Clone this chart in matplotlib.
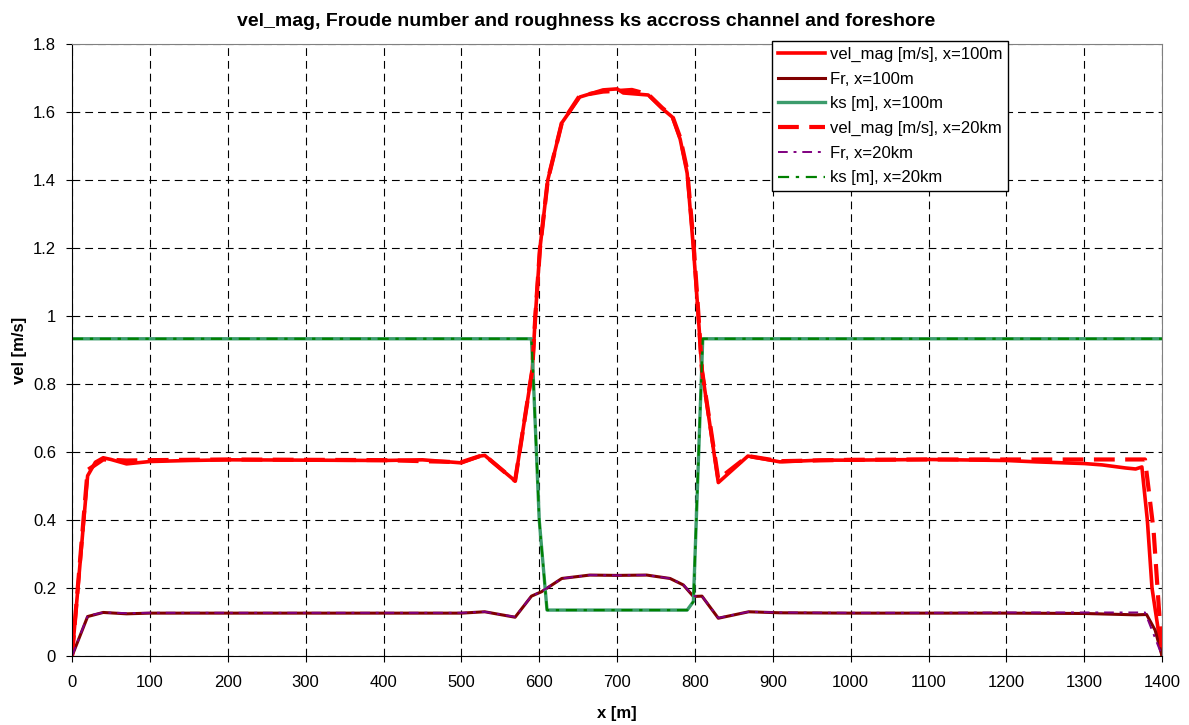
import matplotlib.pyplot as plt
from matplotlib.ticker import MultipleLocator, FormatStrFormatter

plt.rcParams['font.family'] = ['Liberation Sans', 'DejaVu Sans']

# vel_mag, x=100m
x_vel100 = [0, 20, 30, 40, 50, 70, 100, 150, 200, 300, 400, 450, 500, 524, 530, 569, 591, 595, 601, 611,
            629, 652, 682, 700, 708, 740, 758, 771, 781, 790, 798, 804, 809, 830, 868, 909, 961, 1000,
            1100, 1200, 1238, 1300, 1323, 1353, 1366, 1374, 1381, 1387, 1400]
vel100 = [0, 0.53, 0.57, 0.583, 0.578, 0.565, 0.572, 0.575, 0.577, 0.576, 0.575, 0.577, 0.568, 0.588, 0.59,
          0.515, 0.84, 1.0, 1.2, 1.4, 1.568, 1.644, 1.665, 1.668, 1.656, 1.65, 1.61, 1.585, 1.52, 1.42,
          1.2, 1.01, 0.84, 0.51, 0.588, 0.571, 0.576, 0.576, 0.578, 0.575, 0.571, 0.566, 0.562, 0.553,
          0.55, 0.556, 0.40, 0.20, 0]

# vel_mag, x=20km
x_vel20 = [0, 20, 40, 70, 100, 200, 300, 400, 500, 524, 530, 569, 591, 595, 601, 611, 629, 652, 682, 700,
           719, 740, 758, 771, 781, 790, 798, 804, 809, 830, 868, 909, 1000, 1100, 1200, 1300, 1378,
           1389, 1400]
vel20 = [0, 0.547, 0.578, 0.575, 0.576, 0.578, 0.577, 0.576, 0.570, 0.588, 0.59, 0.515, 0.84, 1.0, 1.2,
         1.4, 1.568, 1.648, 1.66, 1.662, 1.665, 1.652, 1.612, 1.588, 1.525, 1.43, 1.22, 1.02, 0.84, 0.52,
         0.588, 0.573, 0.577, 0.578, 0.578, 0.578, 0.578, 0.37, 0]

# Froude number
x_fr100 = [0, 20, 40, 70, 100, 200, 300, 400, 500, 530, 569, 590, 603, 629, 665, 700, 738, 768, 785,
           798, 809, 830, 869, 909, 1000, 1100, 1200, 1300, 1366, 1380, 1391, 1400]
fr100 = [0, 0.116, 0.128, 0.124, 0.126, 0.126, 0.126, 0.126, 0.126, 0.13, 0.114, 0.176, 0.189, 0.228,
         0.238, 0.237, 0.238, 0.228, 0.209, 0.175, 0.176, 0.111, 0.13, 0.127, 0.126, 0.126, 0.126,
         0.125, 0.121, 0.122, 0.076, 0]
x_fr20 = [0, 20, 40, 70, 100, 200, 300, 400, 500, 530, 569, 590, 603, 629, 665, 700, 738, 768, 785,
          798, 809, 830, 869, 909, 1000, 1100, 1200, 1300, 1378, 1400]
fr20 = [0, 0.118, 0.128, 0.126, 0.127, 0.127, 0.127, 0.127, 0.127, 0.13, 0.115, 0.176, 0.19, 0.228,
        0.238, 0.237, 0.238, 0.228, 0.21, 0.176, 0.176, 0.112, 0.13, 0.128, 0.127, 0.127, 0.128,
        0.128, 0.128, 0]

# roughness ks
x_ks = [0, 590, 592, 600, 610, 790, 798, 810, 1400]
ks100 = [0.933, 0.933, 0.84, 0.40, 0.135, 0.135, 0.16, 0.933, 0.933]
ks20 = [0.933, 0.933, 0.84, 0.40, 0.135, 0.135, 0.16, 0.933, 0.933]

fig = plt.figure(figsize=(11.89, 7.25), dpi=100)
ax = fig.add_axes([0.0606, 0.0952, 0.9168, 0.8441])

ax.plot(x_vel100, vel100, color='#ff0000', lw=2.6, label='vel_mag [m/s], x=100m')
ax.plot(x_fr100, fr100, color='#800000', lw=2.2, label='Fr, x=100m')
ax.plot(x_ks, ks100, color='#3c9c6c', lw=2.4, label='ks [m], x=100m')
ax.plot(x_vel20, vel20, color='#ff0000', lw=3, ls=(0, (5, 2.5)), label='vel_mag [m/s], x=20km')
ax.plot(x_fr20, fr20, color='#800080', lw=1.4, ls=(0, (5, 3, 1.5, 3)), label='Fr, x=20km')
ax.plot(x_ks, ks20, color='#008000', lw=1.6, ls=(0, (5, 3, 1.5, 3)), label='ks [m], x=20km')

ax.set_xlim(0, 1400)
ax.set_ylim(0, 1.8)
ax.xaxis.set_major_locator(MultipleLocator(100))
ax.yaxis.set_major_locator(MultipleLocator(0.2))
ax.yaxis.set_major_formatter(FormatStrFormatter('%g'))
ax.grid(True, color='black', ls=(0, (7, 4.5)), lw=0.8)
ax.tick_params(direction='out', length=4.5, labelsize=12, top=False, right=False)
ax.tick_params(axis='x', pad=9.5)
ax.tick_params(axis='y', pad=7)

for s in ['top', 'right']:
    ax.spines[s].set_color('#808080')
ax.spines['left'].set_color('black')
ax.spines['bottom'].set_color('black')

fig.text(0.493, 0.970, 'vel_mag, Froude number and roughness ks accross channel and foreshore',
         fontsize=14, fontweight='bold', ha='center', va='center')
ax.set_xlabel('x [m]', fontsize=12, fontweight='bold', labelpad=11)
ax.set_ylabel('vel [m/s]', fontsize=12, fontweight='bold', labelpad=4)

leg = ax.legend(loc='upper right', bbox_to_anchor=(0.8587, 1.005), borderaxespad=0,
                fontsize=12, handlelength=2.8, labelspacing=0.58, handletextpad=0.3,
                fancybox=False, framealpha=1, edgecolor='black', borderpad=0.35)
leg.get_frame().set_linewidth(1.0)

plt.savefig('out.png', dpi=100)
